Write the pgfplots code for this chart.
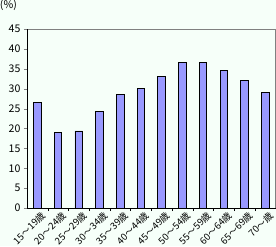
\documentclass[border=0pt]{standalone}
\usepackage{pgfplots}
\pgfplotsset{compat=1.18}
\usepackage{fontspec}
\setmainfont{Noto Sans CJK JP}
\usetikzlibrary{backgrounds}
\definecolor{bg}{RGB}{246,255,249}
\definecolor{barc}{RGB}{153,153,255}
\begin{document}
\begin{tikzpicture}[show background rectangle, background rectangle/.style={fill=bg,draw=none}, inner frame sep=0pt]
\begin{axis}[
  scale only axis, width=247pt, height=178pt,
  xmin=-0.5, xmax=11.5, ymin=0, ymax=45,
  ytick={0,5,...,45},
  xtick={0,...,11},
  xticklabels={15～19歳,20～24歳,25～29歳,30～34歳,35～39歳,40～44歳,45～49歳,50～54歳,55～59歳,60～64歳,65～69歳,70～歳},
  x tick label style={rotate=45, anchor=north east, font=\fontsize{9.5}{10}\selectfont, inner sep=0.5pt, xshift=3pt, yshift=-1pt},
  y tick label style={font=\fontsize{10.5}{12}\selectfont},
  /pgf/number format/assume math mode=true,
  major x tick style={draw=none},
  minor xtick={0.5,1.5,...,10.5},
  minor x tick style={black},
  minor tick length=3pt,
  major tick length=3pt,
  tick align=outside,
  xtick pos=bottom, ytick pos=left,
  axis line style={gray},
  axis background/.style={fill=bg},
  ybar, bar width=7.5pt,
  clip=false,
]
\addplot[fill=barc, draw=black, line width=0.8pt] coordinates {
(0,26.5) (1,19.1) (2,19.4) (3,24.2) (4,28.5) (5,30.0) (6,33.0) (7,36.6) (8,36.6) (9,34.5) (10,32.0) (11,29.0)};
\draw[black, line width=0.8pt] (rel axis cs:0,1) -- (rel axis cs:0,0) -- (rel axis cs:1,0);
\node[anchor=south west, font=\fontsize{10.5}{12}\selectfont, inner sep=0pt] at ([xshift=-27pt,yshift=18pt]rel axis cs:0,1) {(\%)};
\end{axis}
\end{tikzpicture}
\end{document}
